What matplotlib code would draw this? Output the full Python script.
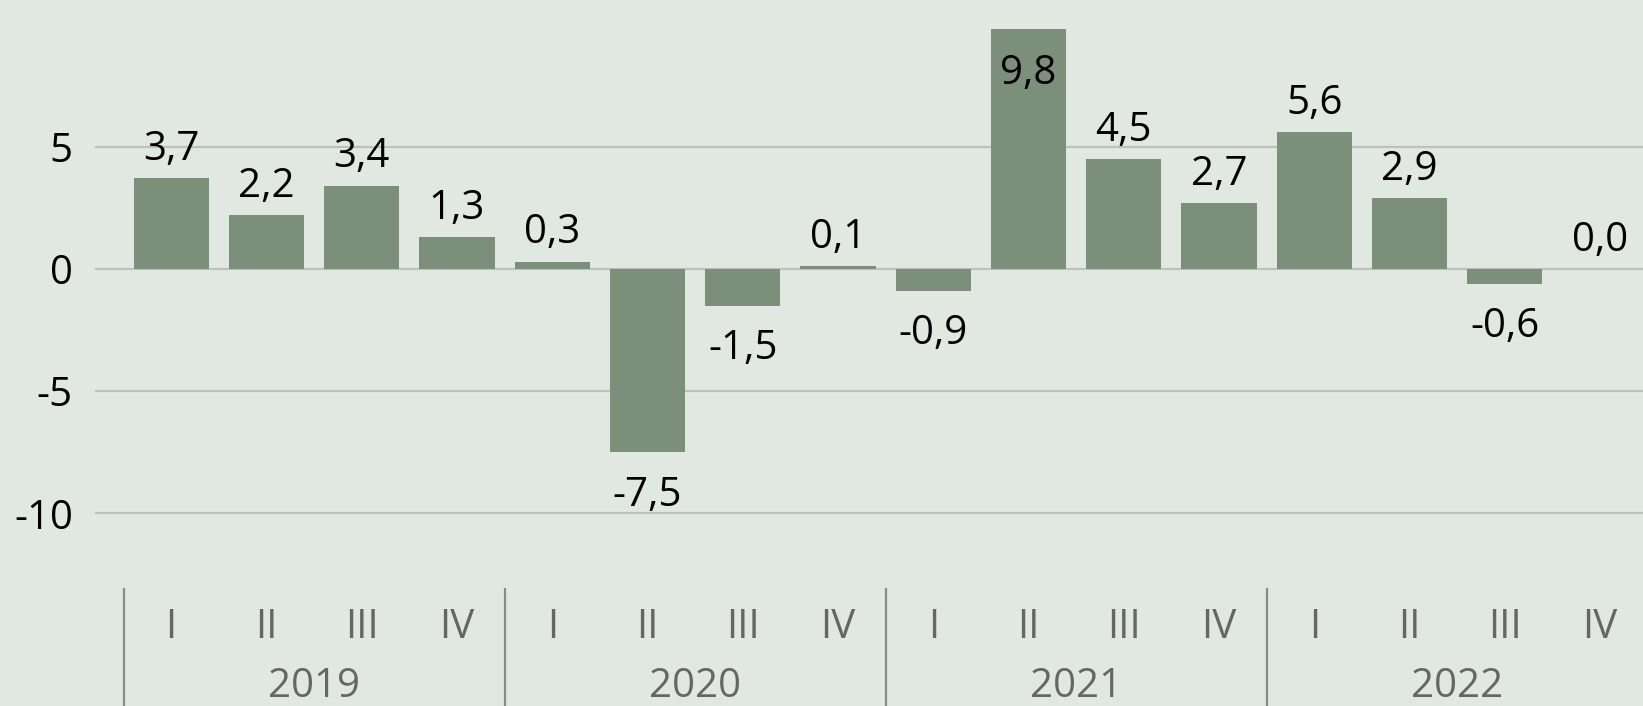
import matplotlib
matplotlib.use("Agg")
import matplotlib.pyplot as plt

# quarterly values
years = ["2019", "2020", "2021", "2022"]
quarters = ["I", "II", "III", "IV"]
values = [3.7, 2.2, 3.4, 1.3,
          0.3, -7.5, -1.5, 0.1,
          -0.9, 9.8, 4.5, 2.7,
          5.6, 2.9, -0.6, 0.0]

bg = "#e1e8e1"
bar_color = "#7b8f7b"
grid_color = "#bdc1bd"

plt.rcParams['font.family'] = ['Open Sans', 'DejaVu Sans']

fig = plt.figure(figsize=(16.43, 7.06), dpi=100, facecolor=bg)
ax = fig.add_axes([95 / 1643, 0, 1 - 95 / 1643, 1], facecolor=bg)

x = list(range(len(values)))
ax.bar(x, values, width=0.79, color=bar_color, zorder=3)

ax.set_xlim(-0.80, 15.45)
ax.set_ylim(-17.87, 10.99)
ax.set_yticks([-10, -5, 0, 5])
ax.set_yticklabels(["-10", "-5", "0", "5"])
ax.yaxis.grid(True, color=grid_color, linewidth=1.6, zorder=0)
ax.set_xticks([])
ax.tick_params(axis="y", length=0, pad=16, labelsize=29, labelcolor="black")
for s in ax.spines.values():
    s.set_visible(False)

# data labels
for xi, v in zip(x, values):
    txt = f"{v:.1f}".replace(".", ",")
    if v >= 9:
        off = -32
    elif v >= 0:
        off = 20.5
    else:
        off = -31
    ax.annotate(txt, (xi, v), xytext=(0, off), textcoords="offset points",
                ha="center", va="center", fontsize=29, color="black", zorder=4)

# multi-level category axis
for i, q in enumerate(quarters * len(years)):
    ax.text(i, -14.69, q, ha="center", va="center", fontsize=29, color="#666666")
for j, yr in enumerate(years):
    ax.text(j * 4 + 1.5, -17.1, yr, ha="center", va="center", fontsize=29, color="#666666")
for b in [-0.5, 3.5, 7.5, 11.5, 15.5]:
    ax.plot([b, b], [-13.08, -17.87], color="#8a8a8a", linewidth=1.6, clip_on=False)

fig.savefig("out.png", dpi=100, facecolor=bg)
